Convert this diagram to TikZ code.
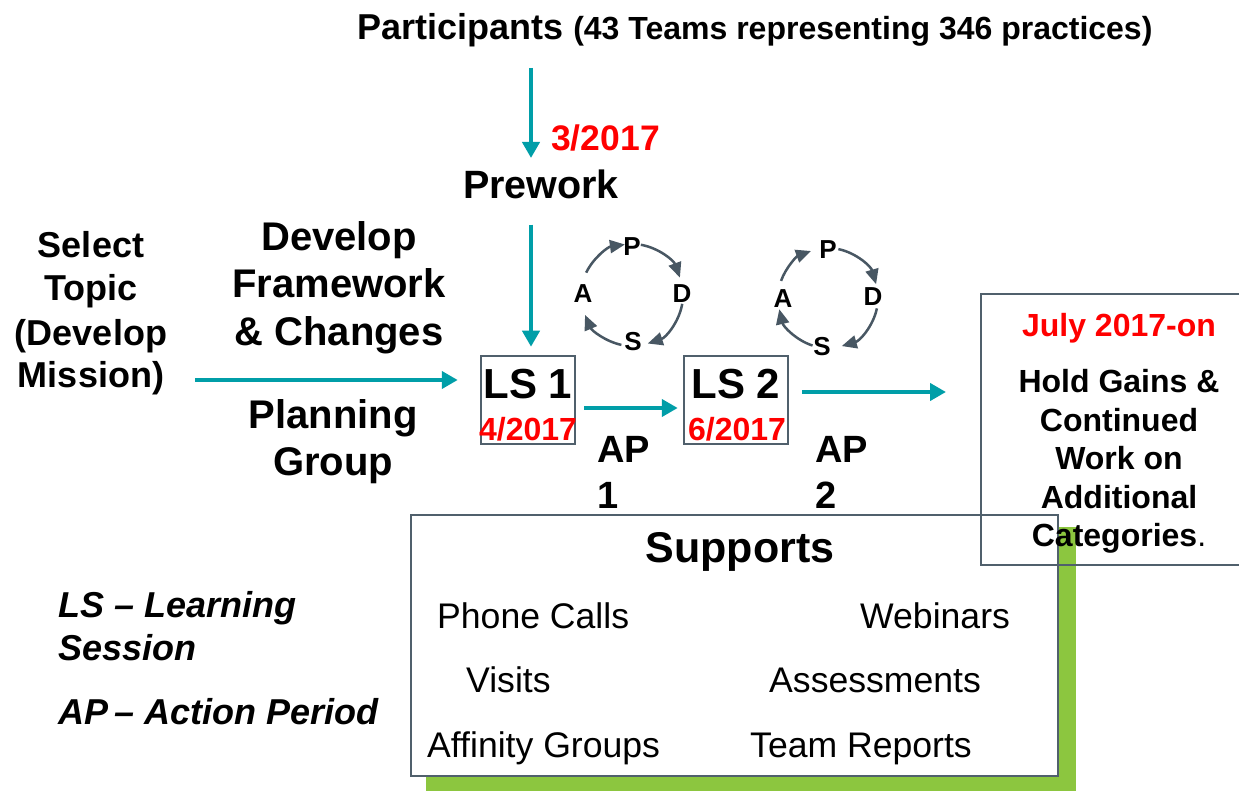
\documentclass[tikz,border=0pt]{standalone}
\usepackage{fontspec}
\setmainfont{Liberation Sans}
\usetikzlibrary{arrows.meta}
\definecolor{flowteal}{RGB}{0,158,168}
\definecolor{slate}{RGB}{72,87,99}
\definecolor{boxgray}{RGB}{80,96,108}
\definecolor{datered}{RGB}{255,0,0}
\definecolor{shadowgreen}{RGB}{140,198,63}
\newcommand\fs[2]{\fontsize{#1}{#2}\selectfont}
\tikzset{
  flow/.style={draw=flowteal, line width=4.5pt, -{Triangle[length=16pt,width=17pt]}},
  cyc/.style={draw=slate, line width=2.5pt, -{Triangle[length=15pt,width=13pt]}},
  panel/.style={draw=boxgray, line width=2.5pt, rectangle, inner sep=0pt},
  txt/.style={inner sep=0pt, anchor=base},
  txtl/.style={inner sep=0pt, anchor=base west},
  letter/.style={inner sep=0pt, anchor=center, font=\fs{26}{31}\bfseries},
}
\begin{document}
\begin{tikzpicture}[x=1pt, y=-1pt]
\clip (0,0) rectangle (1239,791);
\fill[white] (0,0) rectangle (1239,791);

% header and prework
\node[txtl] (part) at (357,40) {\fs{36}{43}\bfseries Participants \fs{32}{38}(43 Teams representing 346 practices)};
\node[txtl, text=datered] (d3) at (551,151) {\fs{35.5}{42}\bfseries 3/2017};
\node[txt] (prework) at (541,199) {\fs{39.5}{47}\bfseries Prework};
\coordinate (partdown) at (531,68);
\coordinate (preworkup) at (531,158);
\draw[flow] (partdown) -- (preworkup);

% planning column
\node[txt] (sel1) at (91,258) {\fs{36}{43}\bfseries Select};
\node[txt] (sel2) at (91,301) {\fs{36}{43}\bfseries Topic};
\node[txt] (sel3) at (91,345) {\fs{36}{43}\bfseries (Develop};
\node[txt] (sel4) at (91,388) {\fs{36}{43}\bfseries Mission)};
\node[txt] (dev1) at (339,251) {\fs{40}{48}\bfseries Develop};
\node[txt] (dev2) at (339,298) {\fs{40}{48}\bfseries Framework};
\node[txt] (dev3) at (339,346) {\fs{40}{48}\bfseries \& Changes};
\node[txt] (plan1) at (333,428) {\fs{40}{48}\bfseries Planning};
\node[txt] (plan2) at (333,475) {\fs{40}{48}\bfseries Group};

% learning sessions
\node[panel, minimum width=94pt, minimum height=88pt] (ls1) at (528,400) {};
\node[panel, minimum width=104pt, minimum height=88pt] (ls2) at (736,400) {};
\node[txt] (ls1t) at (528,398) {\fs{42}{50}\bfseries LS 1};
\node[txt, text=datered] (ls1d) at (528,440) {\fs{32}{38}\bfseries 4/2017};
\node[txt] (ls2t) at (736,398) {\fs{42}{50}\bfseries LS 2};
\node[txt, text=datered] (ls2d) at (737,440) {\fs{32}{38}\bfseries 6/2017};

\coordinate (selend) at (195,380);
\draw[flow] (selend) -- ([yshift=20pt]ls1.west) [shorten >=22pt];
\draw[flow, shorten >=8pt, shorten <=25pt] ([xshift=3pt]ls1.north |- prework.south) -- ([xshift=3pt]ls1.north);
\draw[flow, shorten <=8pt, shorten >=5pt] ([yshift=-8pt]ls1.east) -- ([yshift=-8pt]ls2.west);
\coordinate (onward) at (946,392);
\draw[flow, shorten <=13pt] ([yshift=8pt]ls2.east) -- (onward);

% action periods
\node[txtl] (ap1) at (597,462) {\fs{38}{46}\bfseries AP};
\node[txtl] (ap1n) at (597,508) {\fs{38}{46}\bfseries 1};
\node[txtl] (ap2) at (815,462) {\fs{38}{46}\bfseries AP};
\node[txtl] (ap2n) at (815,508) {\fs{38}{46}\bfseries 2};

% PDSA cycle after LS 1
\coordinate (c1) at (632,295);
\node[letter] (p1) at (632,247) {P};
\node[letter] (d1) at (682,294) {D};
\node[letter] (s1) at (633,342) {S};
\node[letter] (a1) at (583,294) {A};
\draw[cyc] ([shift={(80:51pt)}]c1) arc[start angle=80, end angle=20, radius=51pt];
\draw[cyc] ([shift={(-10:51pt)}]c1) arc[start angle=-10, end angle=-72, radius=51pt];
\draw[cyc] ([shift={(-102:51pt)}]c1) arc[start angle=-102, end angle=-157, radius=51pt];
\draw[cyc] ([shift={(154:51pt)}]c1) arc[start angle=154, end angle=98, radius=51pt];

% PDSA cycle after LS 2
\coordinate (c2) at (828,298);
\node[letter] (p2) at (828,250) {P};
\node[letter] (d2) at (873,297) {D};
\node[letter] (s2) at (822,347) {S};
\node[letter] (a2) at (783,299) {A};
\draw[cyc] ([shift={(78:50pt)}]c2) arc[start angle=78, end angle=16, radius=50pt];
\draw[cyc] ([shift={(-12:50pt)}]c2) arc[start angle=-12, end angle=-74, radius=50pt];
\draw[cyc] ([shift={(-108:50pt)}]c2) arc[start angle=-108, end angle=-167, radius=50pt];
\draw[cyc] ([shift={(160:50pt)}]c2) arc[start angle=160, end angle=110, radius=50pt];

% supports panel with green shadow
\fill[shadowgreen] (426,527) rectangle (1076,800);
\node[panel, fill=white, minimum width=647pt, minimum height=261pt] (supports) at (734.5,645.5) {};
\node[txt] (suphead) at (740,562) {\fs{43}{52}\bfseries Supports};
\node[txtl] (phone) at (437,628) {\fs{35.6}{42}Phone Calls};
\node[txtl] (webinar) at (860,628) {\fs{35.6}{42}Webinars};
\node[txtl] (visits) at (466,692) {\fs{35.6}{42}Visits};
\node[txtl] (assess) at (769,692) {\fs{35.6}{42}Assessments};
\node[txtl] (affinity) at (427,757) {\fs{35.6}{42}Affinity Groups};
\node[txtl] (reports) at (750,757) {\fs{35.6}{42}Team Reports};

% ongoing work panel
\node[panel, minimum width=279pt, minimum height=271pt] (july) at (1120.5,429.5) {};
\node[txt, text=datered] (jul) at (1119,337) {\fs{32}{38}\bfseries July 2017-on};
\node[txt] (h1) at (1119,392) {\fs{32}{38}\bfseries Hold Gains \&};
\node[txt] (h2) at (1119,431) {\fs{32}{38}\bfseries Continued};
\node[txt] (h3) at (1119,469) {\fs{32}{38}\bfseries Work on};
\node[txt] (h4) at (1119,508) {\fs{32}{38}\bfseries Additional};
\node[txt] (h5) at (1119,546) {\fs{32}{38}\textbf{Categories}.};

% legend
\node[txtl] (leg1) at (58,617) {\fs{36}{43}\bfseries\itshape LS -- Learning};
\node[txtl] (leg2) at (58,660) {\fs{36}{43}\bfseries\itshape Session};
\node[txtl] (leg3) at (58,724) {\fs{36}{43}\bfseries\itshape AP\kern-4pt{} -- Action Period};
\end{tikzpicture}
\end{document}
